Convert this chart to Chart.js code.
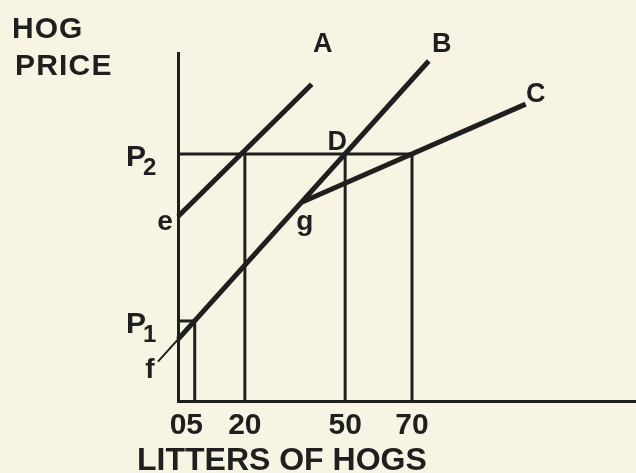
<!DOCTYPE html>
<html>
<head>
<meta charset="utf-8">
<title>Hog price and litters of hogs</title>
<script src="https://cdn.jsdelivr.net/npm/chart.js@4.4.1/dist/chart.umd.min.js"></script>
<style>
  html, body { margin: 0; padding: 0; background: #f8f4e3; }
  canvas { display: block; }
</style>
</head>
<body>
<canvas id="hogChart" width="636" height="473"></canvas>
<script>
// ======== Values ========
const xTicks = [0, 5, 20, 50, 70]; // litters of hogs

// price levels (the price axis has no numbers, only P1 / P2)
const priceSubs = ["1", "2"];
const priceValues = [23, 71];
const priceEndX = [5, 70]; // where each price line stops

// verticals up from the litters axis
const guideX = [5, 20, 50, 70];
const guideTop = [23, 71, 71, 71];

// the three supply lines
const lineAX = [0, 40];
const lineAY = [53, 91];
const lineBX = [-6, 0, 75];
const lineBY = [11.3, 17.7, 97.7];
const lineCX = [37, 104];
const lineCY = [57.1, 85.3];

const INK = "#1f1f1f";
const PAPER = "#f8f4e3";
const FONT = '"Liberation Sans", Arial, sans-serif';

// ======== Helpers ========
const toPoints = (xs, ys) => xs.map((x, i) => ({ x, y: ys[i] }));

function lineSet(label, data, width) {
  return {
    label,
    data,
    showLine: true,
    borderColor: INK,
    borderWidth: width,
    pointRadius: 0,
    fill: false,
    tension: 0,
    clip: false,
  };
}

// ======== Text on the diagram ========
const labelPlugin = {
  id: "diagramLabels",
  beforeDraw(chart) {
    const { ctx, width, height } = chart;
    ctx.save();
    ctx.fillStyle = PAPER;
    ctx.fillRect(0, 0, width, height);
    ctx.restore();
  },
  afterDatasetsDraw(chart) {
    const { ctx, scales } = chart;
    const px = (v) => scales.x.getPixelForValue(v);
    const py = (v) => scales.y.getPixelForValue(v);

    ctx.save();
    ctx.fillStyle = INK;
    ctx.textBaseline = "alphabetic";

    // axis titles
    ctx.textAlign = "left";
    ctx.font = `bold 30px ${FONT}`;
    ctx.letterSpacing = "1px";
    ctx.fillText("HOG", 12, 38);
    ctx.letterSpacing = "1.2px";
    ctx.fillText("PRICE", 15, 75);
    ctx.font = `bold 32px ${FONT}`;
    ctx.letterSpacing = "0px";
    ctx.fillText("LITTERS OF HOGS", 137, 470);

    // P1 / P2 beside the price axis
    priceValues.forEach((p, i) => {
      ctx.font = `bold 30px ${FONT}`;
      ctx.fillText("P", px(0) - 52, py(p) + 12);
      ctx.font = `bold 24px ${FONT}`;
      ctx.fillText(priceSubs[i], px(0) - 35, py(p) + 21);
    });

    // letters on the lines
    ctx.textAlign = "center";
    const tag = (text, x, y, dx, dy, size) => {
      ctx.font = `bold ${size}px ${FONT}`;
      ctx.fillText(text, px(x) + dx, py(y) + dy);
    };
    tag("A", lineAX[1], lineAY[1], 11, -32, 27);
    tag("B", lineBX[2], lineBY[2], 13, -9, 27);
    tag("C", lineCX[1], lineCY[1], 10, -2, 27);
    tag("D", guideX[2], priceValues[1], -8, -4, 27);
    tag("e", lineAX[0], lineAY[0], -13, 13, 28);
    tag("f", lineBX[0], lineBY[0], -8, 16, 28);
    tag("g", lineCX[0], lineCY[0], 3, 28, 28);
    ctx.restore();
  },
};

// ======== Build chart ========
const datasets = [
  lineSet("A", toPoints(lineAX, lineAY), 5),
  lineSet("B", toPoints(lineBX.slice(1), lineBY.slice(1)), 5),
  lineSet("B tail", toPoints(lineBX.slice(0, 2), lineBY.slice(0, 2)), 2),
  lineSet("C", toPoints(lineCX, lineCY), 5),
  ...guideX.map((x, i) => lineSet(`at ${x}`, [{ x, y: 0 }, { x, y: guideTop[i] }], 3)),
  ...priceValues.map((p, i) =>
    lineSet(`P${priceSubs[i]}`, [{ x: 0, y: p }, { x: priceEndX[i], y: p }], 3)
  ),
];

new Chart(document.getElementById("hogChart").getContext("2d"), {
  type: "scatter",
  data: { datasets },
  options: {
    responsive: false,
    animation: false,
    devicePixelRatio: 1,
    layout: { padding: { top: 53, right: 0, bottom: 0, left: 0 } },
    plugins: {
      legend: { display: false },
      tooltip: { enabled: false },
    },
    scales: {
      x: {
        type: "linear",
        min: 0,
        max: 137,
        afterFit: (s) => { s.height = 72; },
        afterBuildTicks: (s) => { s.ticks = xTicks.map((v) => ({ value: v })); },
        ticks: {
          color: INK,
          font: { family: FONT, size: 30, weight: "bold" },
          padding: 7,
          autoSkip: false,
          maxRotation: 0,
        },
        grid: { display: false, drawTicks: false },
        border: { display: true, color: INK, width: 3 },
      },
      y: {
        type: "linear",
        min: 0,
        max: 100,
        afterFit: (s) => { s.width = 178; },
        ticks: { display: false },
        grid: { display: false, drawTicks: false },
        border: { display: true, color: INK, width: 3 },
      },
    },
  },
  plugins: [labelPlugin],
});
</script>
</body>
</html>
